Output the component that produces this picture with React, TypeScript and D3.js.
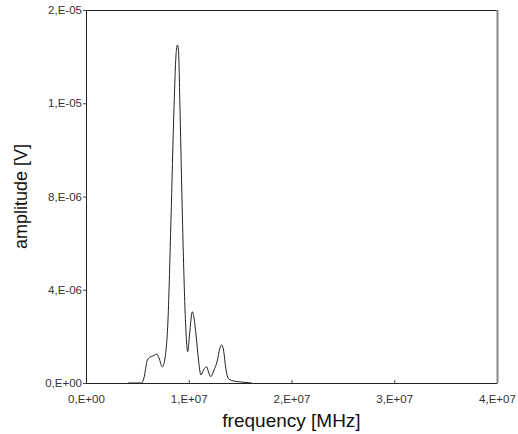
import React, { useEffect, useRef } from "react";
import * as d3 from "d3";

// spectrum (frequency in Hz, amplitude in V)
const freq = [
  4.09e6, 5.42e6, 5.64e6, 5.97e6, 6.23e6, 6.52e6, 6.88e6, 7.1e6, 7.43e6, 7.69e6,
  7.98e6, 8.27e6, 8.56e6, 8.76e6, 8.89e6, 9.0e6, 9.15e6, 9.39e6, 9.64e6, 9.9e6,
  10.07e6, 10.35e6, 10.51e6, 10.71e6, 10.95e6, 11.19e6, 11.44e6, 11.75e6, 11.92e6, 12.14e6,
  12.46e6, 12.75e6, 13.04e6, 13.21e6, 13.38e6, 13.63e6, 13.85e6, 14.21e6, 14.82e6, 15.47e6,
  16.13e6,
];
const amplitude = [
  0, 0, 2.7e-7, 1.23e-6, 1.39e-6, 1.45e-6, 1.55e-6, 1.34e-6, 0.87e-6, 1.34e-6,
  3.38e-6, 8.74e-6, 1.464e-5, 1.759e-5, 1.812e-5, 1.786e-5, 1.464e-5, 8.74e-6, 3.91e-6, 1.68e-6,
  2.57e-6, 3.82e-6, 3.49e-6, 2.57e-6, 1.23e-6, 4.3e-7, 7.0e-7, 8.7e-7, 5.9e-7, 3.4e-7,
  7.0e-7, 1.13e-6, 1.88e-6, 2.04e-6, 1.77e-6, 7.0e-7, 2.5e-7, 1.3e-7, 7e-8, 3e-8,
  0,
];

const xTicks = [0, 1e7, 2e7, 3e7, 4e7];
const xTickLabels = ["0,E+00", "1,E+07", "2,E+07", "3,E+07", "4,E+07"];
const yTicks = [0, 5e-6, 1e-5, 1.5e-5, 2e-5];
const yTickLabels = ["0,E+00", "4,E-06", "8,E-06", "1,E-05", "2,E-05"];

const width = 518;
const height = 434;
const margin = { top: 10, right: 21, bottom: 51, left: 86 };

export default function App() {
  const ref = useRef<SVGSVGElement>(null);

  useEffect(() => {
    const svg = d3.select(ref.current);
    svg.selectAll("*").remove();

    const x = d3.scaleLinear().domain([0, 4e7]).range([margin.left, width - margin.right]);
    const y = d3.scaleLinear().domain([0, 2e-5]).range([height - margin.bottom, margin.top]);

    const font = "'Liberation Sans', Arial, sans-serif";

    // x axis (ticks point inward)
    const gx = svg.append("g")
      .attr("transform", `translate(0,${height - margin.bottom})`)
      .call(d3.axisBottom(x).tickValues(xTicks).tickSizeInner(-3).tickSizeOuter(0)
        .tickFormat((_, i) => xTickLabels[i]));
    gx.select(".domain").attr("stroke", "#222");
    gx.selectAll(".tick line").attr("stroke", "#444");
    gx.selectAll(".tick text")
      .attr("y", 12)
      .attr("fill", "#333")
      .attr("font-size", 11.5)
      .attr("font-family", font);

    // y axis (ticks point outward)
    const gy = svg.append("g")
      .attr("transform", `translate(${margin.left},0)`)
      .call(d3.axisLeft(y).tickValues(yTicks).tickSize(3)
        .tickFormat((_, i) => yTickLabels[i]));
    gy.select(".domain").attr("stroke", "#222");
    gy.selectAll(".tick line").attr("stroke", "#444");
    gy.selectAll(".tick text")
      .attr("x", -4)
      .attr("fill", "#333")
      .attr("font-size", 11.5)
      .attr("font-family", font);

    // frame top and right
    svg.append("line")
      .attr("x1", margin.left).attr("x2", width - margin.right)
      .attr("y1", margin.top + 0.5).attr("y2", margin.top + 0.5)
      .attr("stroke", "#222");
    svg.append("line")
      .attr("x1", width - margin.right + 0.5).attr("x2", width - margin.right + 0.5)
      .attr("y1", margin.top).attr("y2", height - margin.bottom)
      .attr("stroke", "#888").attr("stroke-width", 2);

    const line = d3.line<number>()
      .x((_, i) => x(freq[i]))
      .y(d => y(d))
      .curve(d3.curveMonotoneX);

    svg.append("path")
      .datum(amplitude)
      .attr("fill", "none")
      .attr("stroke", "#222")
      .attr("stroke-width", 1)
      .attr("d", line);

    // axis titles
    svg.append("text")
      .attr("x", (margin.left + width - margin.right) / 2)
      .attr("y", 427)
      .attr("text-anchor", "middle")
      .attr("font-family", font)
      .attr("font-size", 19)
      .attr("fill", "#111")
      .text("frequency [MHz]");

    svg.append("text")
      .attr("transform", `translate(27,${(margin.top + height - margin.bottom) / 2}) rotate(-90)`)
      .attr("text-anchor", "middle")
      .attr("font-family", font)
      .attr("font-size", 18)
      .attr("fill", "#111")
      .text("amplitude [V]");
  }, []);

  return (
    <svg
      ref={ref}
      width={width}
      height={height}
      style={{ display: "block", position: "absolute", left: 0, top: 0, background: "#fff" }}
    />
  );
}
